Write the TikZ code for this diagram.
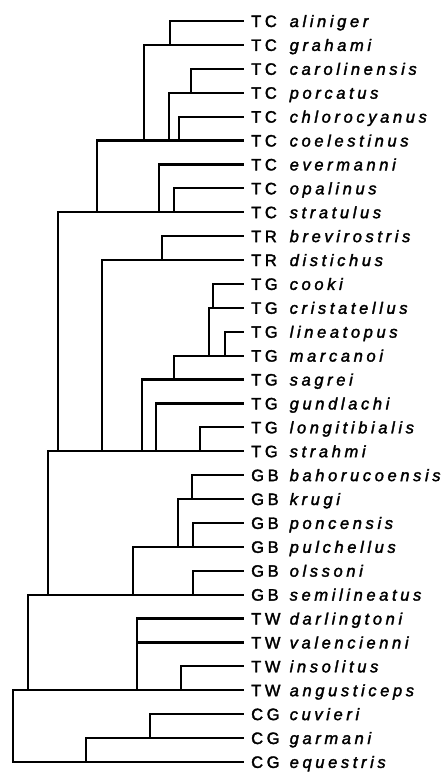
\documentclass[tikz,border=0pt]{standalone}
\usepackage{fontspec}
\setmainfont{Liberation Sans}
\newfontfamily\taxfont[LetterSpace=22, FakeBold=2]{Liberation Sans}
\usetikzlibrary{calc}

\pgfmathdeclarefunction{ly}{1}{\pgfmathparse{21+(#1-1)*23.9}}

\begin{document}
\begin{tikzpicture}[
    x=1pt, y=-1pt,
    branch/.style={line width=2.2pt, line cap=rect, line join=miter},
    taxon/.style={anchor=base west, inner sep=0pt, font=\taxfont\fontsize{16.5}{19}\selectfont},
]

\useasboundingbox (0,0) rectangle (447,774);

% Leaves: line ends + labels
\foreach \i/\grp/\sp in {
    1/TC/aliniger, 2/TC/grahami, 3/TC/carolinensis, 4/TC/porcatus,
    5/TC/chlorocyanus, 6/TC/coelestinus, 7/TC/evermanni, 8/TC/opalinus,
    9/TC/stratulus, 10/TR/brevirostris, 11/TR/distichus, 12/TG/cooki,
    13/TG/cristatellus, 14/TG/lineatopus, 15/TG/marcanoi, 16/TG/sagrei,
    17/TG/gundlachi, 18/TG/longitibialis, 19/TG/strahmi, 20/GB/bahorucoensis,
    21/GB/krugi, 22/GB/poncensis, 23/GB/pulchellus, 24/GB/olssoni,
    25/GB/semilineatus, 26/TW/darlingtoni, 27/TW/valencienni, 28/TW/insolitus,
    29/TW/angusticeps, 30/CG/cuvieri, 31/CG/garmani, 32/CG/equestris} {
    \coordinate (l\i) at (243,{ly(\i)});
    \node[taxon] (t\i) at (251,{ly(\i)+6}) {\makebox[38.5pt][l]{\grp}\textit{\sp}};
}

% Internal nodes (x of the vertical, y of the lowest leaf)
\coordinate (n1)  at (170,{ly(2)});
\coordinate (n2)  at (191,{ly(4)});
\coordinate (n3)  at (179,{ly(6)});
\coordinate (n4)  at (169,{ly(6)});
\coordinate (n5)  at (144,{ly(6)});
\coordinate (n6)  at (174,{ly(9)});
\coordinate (n7)  at (159,{ly(9)});
\coordinate (n8)  at (97,{ly(9)});
\coordinate (n9)  at (162,{ly(11)});
\coordinate (n10) at (213,{ly(13)});
\coordinate (n11) at (225,{ly(15)});
\coordinate (n12) at (209,{ly(15)});
\coordinate (n13) at (174,{ly(16)});
\coordinate (n14) at (200,{ly(19)});
\coordinate (n15) at (156,{ly(19)});
\coordinate (n16) at (142,{ly(19)});
\coordinate (n17) at (102,{ly(19)});
\coordinate (n18) at (58,{ly(19)});
\coordinate (n19) at (192,{ly(21)});
\coordinate (n20) at (193,{ly(23)});
\coordinate (n21) at (178,{ly(23)});
\coordinate (n22) at (193,{ly(25)});
\coordinate (n23) at (133,{ly(25)});
\coordinate (n24) at (48,{ly(25)});
\coordinate (n25) at (181,{ly(29)});
\coordinate (n26) at (137,{ly(29)});
\coordinate (n27) at (28,{ly(29)});
\coordinate (n28) at (150,{ly(31)});
\coordinate (n29) at (86,{ly(32)});
\coordinate (n30) at (13,{ly(32)});

% Branches: upper child -| node -- lower child
\foreach \n/\a/\b in {
    n1/l1/l2, n2/l3/l4, n3/l5/l6, n4/n2/n3, n5/n1/n4,
    n6/l8/l9, n7/l7/n6, n8/n5/n7, n9/l10/l11,
    n10/l12/l13, n11/l14/l15, n12/n10/n11, n13/n12/l16,
    n14/l18/l19, n15/l17/n14, n16/n13/n15, n17/n9/n16, n18/n8/n17,
    n19/l20/l21, n20/l22/l23, n21/n19/n20, n22/l24/l25, n23/n21/n22,
    n24/n18/n23, n25/l28/l29, n26/l26/n25, n27/n24/n26,
    n28/l30/l31, n29/n28/l32, n30/n27/n29} {
    \draw[branch] (\a) -| (\n) -- (\b);
}
% TW polytomy
\draw[branch] (l27) -- (l27 -| n26);

\end{tikzpicture}
\end{document}
